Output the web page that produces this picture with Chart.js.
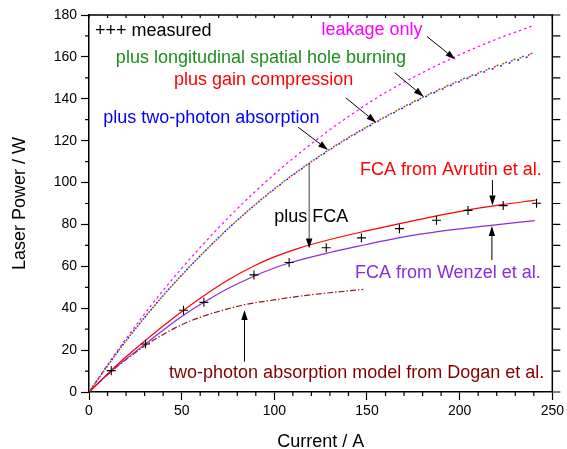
<!DOCTYPE html>
<html>
<head>
<meta charset="utf-8">
<title>Laser power vs current</title>
<script src="https://cdn.jsdelivr.net/npm/chart.js@4.4.0/dist/chart.umd.min.js"></script>
<style>
  html, body { margin: 0; padding: 0; background: #fff; }
</style>
</head>
<body>
<canvas id="chart" width="567" height="449"></canvas>
<script>
// measured points (A, W)
const currentMeasured = [12, 30.5, 51, 62, 89, 108, 128, 147, 167.5, 187.5, 204.5, 223.5, 241.5];
const powerMeasured = [10.2, 22.9, 39, 42.8, 55.9, 61.8, 68.9, 73.6, 78, 82, 86.7, 89, 90.1];

// model curves without FCA
const currentModel = [0, 10, 20, 40, 60, 80, 100, 120, 140, 160, 180, 200, 220, 240];
const powerLeakage = [0, 13, 25.5, 48.5, 69, 87.5, 104, 118.5, 131.5, 143, 152.5, 161, 168.5, 175];
const powerSHB = [0, 12.5, 24.5, 46, 65, 82, 97, 110, 121.5, 131.5, 140.8, 148.8, 155.8, 162];
const powerGainComp = [0, 12.5, 24.5, 46, 65, 82, 97, 110, 121.5, 131.5, 140.6, 148.6, 155.6, 161.8];
const powerTPA = [0, 12.5, 24.5, 46, 65, 82, 96.8, 109.8, 121.2, 131.2, 140.3, 148.2, 155, 161];

// with free carrier absorption
const currentAvrutin = [0, 12, 20, 31, 40, 51, 62, 75, 89, 100, 113, 130, 149, 167, 185, 204, 222, 241];
const powerAvrutin = [0, 10.3, 16.8, 25, 31.5, 39, 46, 53.5, 60.2, 64.5, 68.6, 72.8, 76.8, 80.3, 83.6, 86.8, 89.3, 91.6];
const currentWenzel = [0, 12, 20, 30.5, 40, 51, 62, 75, 89, 100, 108, 130, 149, 167, 190, 217, 240.5];
const powerWenzel = [0, 10, 15.8, 23, 29.5, 36.6, 42.8, 49.4, 55.3, 59.2, 61.6, 66.6, 70.3, 73.6, 76.8, 79.6, 81.8];
const currentDogan = [0, 12, 20, 30, 40, 51, 60, 72, 84, 100, 113, 130, 148];
const powerDogan = [0, 9.8, 15.5, 22, 27.5, 32.5, 35.7, 39, 41.7, 44, 45.7, 47.4, 49];

const FONT = '"Liberation Sans", Arial, sans-serif';

const pts = (xs, ys) => xs.map((x, i) => ({ x, y: ys[i] }));

const curve = (xs, ys, color, dash, offset, width) => ({
  data: pts(xs, ys),
  showLine: true,
  borderColor: color,
  borderWidth: width || 1.2,
  borderDash: dash || [],
  borderDashOffset: offset || 0,
  pointRadius: 0,
  cubicInterpolationMode: 'monotone'
});

const datasets = [
  {
    data: pts(currentMeasured, powerMeasured),
    showLine: false,
    pointStyle: 'cross',
    pointRadius: 4.5,
    borderColor: '#000',
    borderWidth: 1.1
  },
  curve(currentAvrutin, powerAvrutin, '#ff0000'),
  curve(currentWenzel, powerWenzel, '#8a2be2'),
  curve(currentDogan, powerDogan, '#8b1a1a', [6, 2, 1.5, 2]),
  curve(currentModel, powerSHB, '#1e8c1e', [2, 7], 0, 1.5),
  curve(currentModel, powerGainComp, '#ff2020', [2, 7], 3, 1.5),
  curve(currentModel, powerTPA, '#2020ff', [2, 7], 6, 1.5),
  curve(currentModel, powerLeakage, '#ff00ff', [2.5, 3])
];

// labels and arrows, placed in data units
const labels = [
  { text: '+++ measured', x: 3.2, y: 170, color: '#000' },
  { text: 'leakage only', x: 125.4, y: 170.5, color: '#ff00ff' },
  { text: 'plus longitudinal spatial hole burning', x: 14.5, y: 157.1, color: '#1e8c1e' },
  { text: 'plus gain compression', x: 45.9, y: 146.6, color: '#ff0000' },
  { text: 'plus two-photon absorption', x: 7.7, y: 128.5, color: '#0000ff' },
  { text: 'plus FCA', x: 100, y: 81.4, color: '#000' },
  { text: 'FCA from Avrutin et al.', x: 146.2, y: 103.8, color: '#ff0000' },
  { text: 'FCA from Wenzel et al.', x: 143.5, y: 54.2, color: '#8a2be2' },
  { text: 'two-photon absorption model from Dogan et al.', x: 43.2, y: 6.7, color: '#800000' }
];

const arrows = [
  { from: [182.4, 169.7], to: [197.7, 158.8], color: '#000' },
  { from: [164.9, 152.5], to: [180.6, 141.0], color: '#000' },
  { from: [138.5, 140.5], to: [155, 128.6], color: '#000' },
  { from: [112.9, 126.4], to: [129, 115.6], color: '#000' },
  { from: [118.8, 109.2], to: [118.8, 68.5], color: '#444' },
  { from: [217.7, 101.2], to: [217.7, 89], color: '#000' },
  { from: [217.4, 63], to: [217.4, 79.3], color: '#000' },
  { from: [83.9, 14.5], to: [83.9, 39.2], color: '#000' }
];

function drawArrow(ctx, x0, y0, x1, y1, color) {
  const ang = Math.atan2(y1 - y0, x1 - x0);
  const len = 10, half = 3.2;
  const bx = x1 - Math.cos(ang) * len, by = y1 - Math.sin(ang) * len;
  ctx.strokeStyle = color;
  ctx.lineWidth = 1;
  ctx.beginPath();
  ctx.moveTo(x0, y0);
  ctx.lineTo(bx, by);
  ctx.stroke();
  ctx.fillStyle = '#000';
  ctx.beginPath();
  ctx.moveTo(x1, y1);
  ctx.lineTo(bx + Math.sin(ang) * half, by - Math.cos(ang) * half);
  ctx.lineTo(bx - Math.sin(ang) * half, by + Math.cos(ang) * half);
  ctx.closePath();
  ctx.fill();
}

// closes the box and adds minor / mirror ticks
const frameTicks = {
  id: 'frameTicks',
  afterDraw(chart) {
    const { ctx, chartArea: a, scales: { x, y } } = chart;
    ctx.save();
    ctx.strokeStyle = '#000';
    ctx.lineWidth = 1.5;
    ctx.beginPath();
    ctx.moveTo(a.left, a.top);
    ctx.lineTo(a.right, a.top);
    ctx.lineTo(a.right, a.bottom);
    ctx.stroke();

    ctx.lineWidth = 1.2;
    ctx.beginPath();
    for (let v = 0; v <= 250; v += 10) {
      const px = x.getPixelForValue(v);
      if (v % 50 !== 0) {
        ctx.moveTo(px, a.bottom);
        ctx.lineTo(px, a.bottom + 4);
      }
      ctx.moveTo(px, a.top);
      ctx.lineTo(px, a.top + 3);
    }
    for (let v = 0; v <= 180; v += 10) {
      const py = y.getPixelForValue(v);
      if (v % 20 !== 0) {
        ctx.moveTo(a.left, py);
        ctx.lineTo(a.left - 4, py);
      }
      ctx.moveTo(a.right, py);
      ctx.lineTo(a.right + 8, py);
    }
    ctx.stroke();
    ctx.restore();
  }
};

const annotations = {
  id: 'annotations',
  afterDraw(chart) {
    const { ctx, scales: { x, y } } = chart;
    ctx.save();
    arrows.forEach(ar => {
      drawArrow(ctx,
        x.getPixelForValue(ar.from[0]), y.getPixelForValue(ar.from[1]),
        x.getPixelForValue(ar.to[0]), y.getPixelForValue(ar.to[1]), ar.color);
    });
    ctx.font = '18px ' + FONT;
    ctx.textBaseline = 'alphabetic';
    ctx.textAlign = 'left';
    labels.forEach(l => {
      ctx.fillStyle = l.color;
      ctx.fillText(l.text, x.getPixelForValue(l.x), y.getPixelForValue(l.y));
    });
    ctx.restore();
  }
};

new Chart(document.getElementById('chart'), {
  type: 'scatter',
  data: { datasets },
  options: {
    responsive: false,
    animation: false,
    layout: { padding: { top: 15, right: 13, left: 0, bottom: 0 } },
    plugins: { legend: { display: false }, tooltip: { enabled: false } },
    scales: {
      x: {
        type: 'linear',
        min: 0,
        max: 250,
        afterFit(s) { s.height = 57; },
        ticks: { stepSize: 50, color: '#000', font: { size: 14, family: FONT }, padding: 3, maxRotation: 0 },
        grid: { drawOnChartArea: false, tickLength: 8, tickColor: '#000', tickWidth: 1.2 },
        border: { color: '#000', width: 1.5 },
        title: {
          display: true, text: 'Current / A', color: '#000',
          font: { size: 18, family: FONT, lineHeight: 1 }, padding: { top: 0, bottom: -2 }
        }
      },
      y: {
        type: 'linear',
        min: 0,
        max: 180,
        afterFit(s) { s.width = 89; },
        ticks: { stepSize: 20, color: '#000', font: { size: 14, family: FONT }, padding: 4 },
        grid: { drawOnChartArea: false, tickLength: 8, tickColor: '#000', tickWidth: 1.2 },
        border: { color: '#000', width: 1.5 },
        title: {
          display: true, text: 'Laser Power / W', color: '#000',
          font: { size: 18, family: FONT, lineHeight: 1 }, padding: { top: 11, bottom: 0 }
        }
      }
    }
  },
  plugins: [frameTicks, annotations]
});
</script>
</body>
</html>
